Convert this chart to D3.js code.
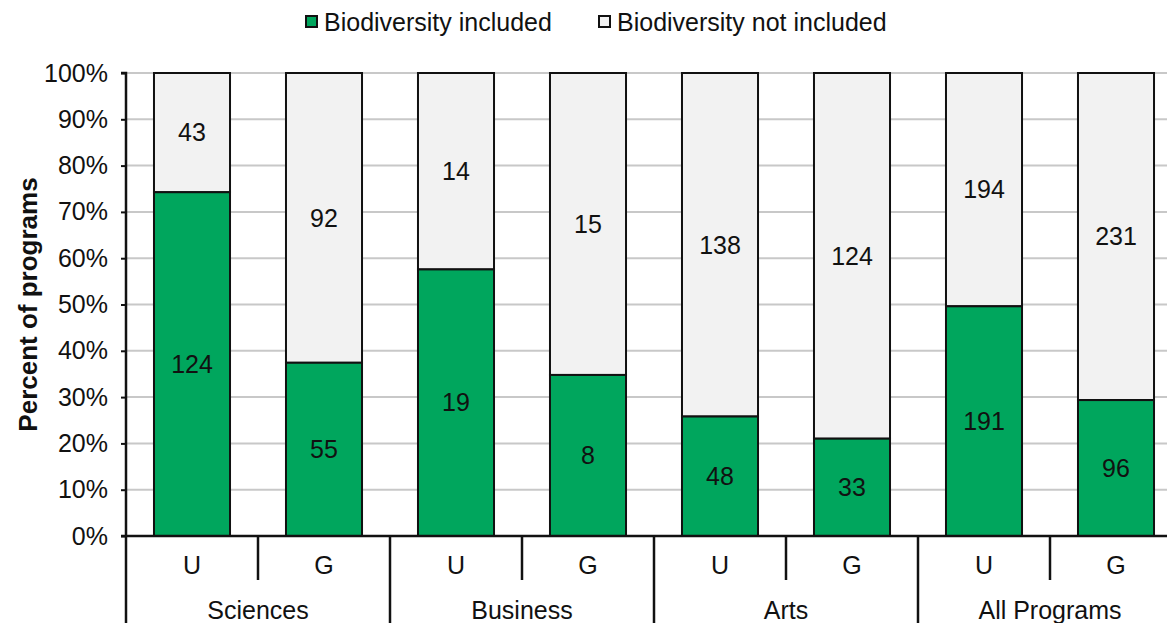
<!DOCTYPE html>
<html>
<head>
<meta charset="utf-8">
<script src="https://cdn.jsdelivr.net/npm/d3@7"></script>
<style>
  body { margin: 0; background: #fff; }
  svg { display: block; font-family: "Liberation Sans", Arial, sans-serif; }
</style>
</head>
<body>
<svg id="chart" width="1167" height="623"></svg>
<script>
const groups = ["Sciences", "Business", "Arts", "All Programs"];
const levels = ["U", "G"];
const included = [124, 55, 19, 8, 48, 33, 191, 96];
const notIncluded = [43, 92, 14, 15, 138, 124, 194, 231];
const yTicks = [0, 0.1, 0.2, 0.3, 0.4, 0.5, 0.6, 0.7, 0.8, 0.9, 1];

const green = "#00a65d";
const grey = "#f2f2f2";
const fontSize = 25;

const bars = [];
groups.forEach((g, gi) => {
    levels.forEach((l, li) => {
        const i = gi * 2 + li;
        const total = included[i] + notIncluded[i];
        bars.push({ key: g + "-" + l, group: g, level: l, inc: included[i], not: notIncluded[i], share: included[i] / total });
    });
});

const svg = d3.select("#chart");
const plotLeft = 126, plotRight = 1182, plotTop = 73, plotBottom = 536;

const x = d3.scaleBand()
    .domain(bars.map(d => d.key))
    .range([plotLeft, plotRight])
    .paddingInner(0.424)
    .paddingOuter(0.212);
const step = x.step();

const y = d3.scaleLinear().domain([0, 1]).range([plotBottom, plotTop]);

// gridlines
svg.append("g")
    .selectAll("line")
    .data(yTicks.slice(1))
    .join("line")
    .attr("x1", plotLeft).attr("x2", 1167)
    .attr("y1", d => y(d)).attr("y2", d => y(d))
    .attr("stroke", "#c8c8c8")
    .attr("stroke-width", 2);

// bars
const bar = svg.append("g")
    .selectAll("g")
    .data(bars)
    .join("g");

bar.append("rect")
    .attr("x", d => x(d.key))
    .attr("width", x.bandwidth())
    .attr("y", y(1))
    .attr("height", d => y(d.share) - y(1))
    .attr("fill", grey)
    .attr("stroke", "#111")
    .attr("stroke-width", 2);

bar.append("rect")
    .attr("x", d => x(d.key))
    .attr("width", x.bandwidth())
    .attr("y", d => y(d.share))
    .attr("height", d => y(0) - y(d.share))
    .attr("fill", green)
    .attr("stroke", "#111")
    .attr("stroke-width", 2);

bar.append("text")
    .attr("x", d => x(d.key) + x.bandwidth() / 2)
    .attr("y", d => y(d.share / 2))
    .attr("dy", "0.35em")
    .attr("text-anchor", "middle")
    .attr("font-size", fontSize)
    .attr("fill", "#111")
    .text(d => d.inc);

bar.append("text")
    .attr("x", d => x(d.key) + x.bandwidth() / 2)
    .attr("y", d => y((1 + d.share) / 2))
    .attr("dy", "0.35em")
    .attr("text-anchor", "middle")
    .attr("font-size", fontSize)
    .attr("fill", "#111")
    .text(d => d.not);

// y axis
const yAxis = svg.append("g")
    .attr("transform", `translate(${plotLeft},0)`)
    .call(d3.axisLeft(y).tickValues(yTicks).tickFormat(d3.format(".0%")).tickSize(5).tickPadding(13));
yAxis.selectAll("text").attr("font-size", fontSize).attr("fill", "#111").attr("font-family", "Liberation Sans, Arial, sans-serif");
yAxis.selectAll("line").attr("stroke", "#111").attr("stroke-width", 2);
yAxis.select(".domain").attr("stroke", "#111").attr("stroke-width", 2.5).attr("d", `M-5,${plotTop}H0V${plotBottom}`);

svg.append("text")
    .attr("transform", `translate(37,${(plotTop + plotBottom) / 2}) rotate(-90)`)
    .attr("text-anchor", "middle")
    .attr("font-size", 26)
    .attr("font-weight", "bold")
    .attr("fill", "#111")
    .text("Percent of programs");

// category axis
const cat = svg.append("g").attr("stroke", "#111").attr("stroke-width", 2.5);
cat.append("line")
    .attr("x1", plotLeft - 5).attr("x2", 1167)
    .attr("y1", plotBottom).attr("y2", plotBottom);

// separators between U and G
cat.selectAll(".sub")
    .data(groups)
    .join("line")
    .attr("class", "sub")
    .attr("x1", (g, gi) => plotLeft + (gi * 2 + 1) * step)
    .attr("x2", (g, gi) => plotLeft + (gi * 2 + 1) * step)
    .attr("y1", plotBottom).attr("y2", 580);

// separators between groups
cat.selectAll(".grp")
    .data(groups)
    .join("line")
    .attr("class", "grp")
    .attr("x1", (g, gi) => plotLeft + gi * 2 * step)
    .attr("x2", (g, gi) => plotLeft + gi * 2 * step)
    .attr("y1", plotBottom).attr("y2", 623);

svg.append("g")
    .selectAll("text")
    .data(bars)
    .join("text")
    .attr("x", d => x(d.key) + x.bandwidth() / 2)
    .attr("y", 565)
    .attr("dy", "0.35em")
    .attr("text-anchor", "middle")
    .attr("font-size", fontSize)
    .attr("fill", "#111")
    .text(d => d.level);

svg.append("g")
    .selectAll("text")
    .data(groups)
    .join("text")
    .attr("x", (g, gi) => plotLeft + (gi * 2 + 1) * step)
    .attr("y", 610)
    .attr("dy", "0.35em")
    .attr("text-anchor", "middle")
    .attr("font-size", fontSize)
    .attr("fill", "#111")
    .text(g => g);

// legend
const legendItems = [
    { label: "Biodiversity included", color: green, x: 305 },
    { label: "Biodiversity not included", color: grey, x: 598 }
];
const legend = svg.append("g")
    .selectAll("g")
    .data(legendItems)
    .join("g")
    .attr("transform", d => `translate(${d.x},15)`);
legend.append("rect")
    .attr("x", 1).attr("y", 1)
    .attr("width", 11).attr("height", 11)
    .attr("fill", d => d.color)
    .attr("stroke", "#111")
    .attr("stroke-width", 2);
legend.append("text")
    .attr("x", 19).attr("y", 7)
    .attr("dy", "0.35em")
    .attr("font-size", fontSize)
    .attr("fill", "#111")
    .text(d => d.label);
</script>
</body>
</html>
